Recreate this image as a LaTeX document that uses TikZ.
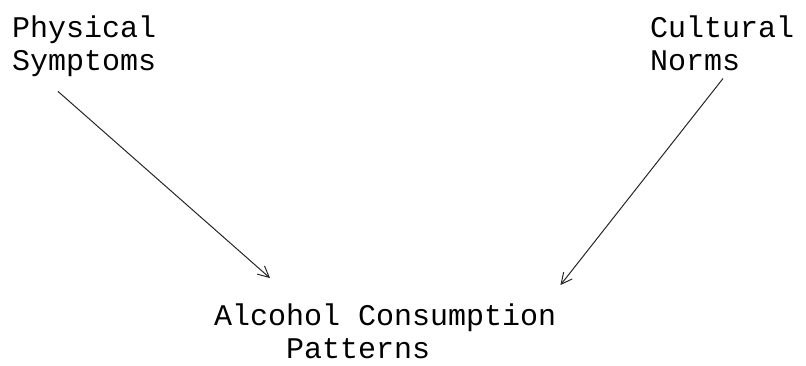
\documentclass[tikz,border=0pt]{standalone}
\usepackage{fontspec}
\setmonofont{Liberation Mono}
\usetikzlibrary{arrows.meta}
\begin{document}
\begin{tikzpicture}[x=1pt,y=-1pt,
  factor/.style={font=\ttfamily\fontsize{30}{33}\selectfont,inner sep=0pt,align=left},
  link/.style={line width=1pt,black!85,-{Straight Barb[length=11pt,width=11pt]}}]
  \useasboundingbox (0,0) rectangle (806,365);
  % base anchor sits on the last line
  \node[factor,anchor=base west] (phys) at (12,70) {Physical\\Symptoms};
  \node[factor,anchor=base west] (cult) at (650,70) {Cultural\\Norms};
  \node[factor,anchor=base west] (alc) at (214,358) {Alcohol Consumption\\\hspace*{2.4em}Patterns};
  \draw[link] ([xshift=46pt,yshift=-15pt]phys.south west) -- ([xshift=56pt,yshift=25pt]alc.north west);
  \draw[link] ([xshift=73pt,yshift=-8pt]cult.south west) -- ([xshift=4pt,yshift=18pt]alc.north east);
\end{tikzpicture}
\end{document}
